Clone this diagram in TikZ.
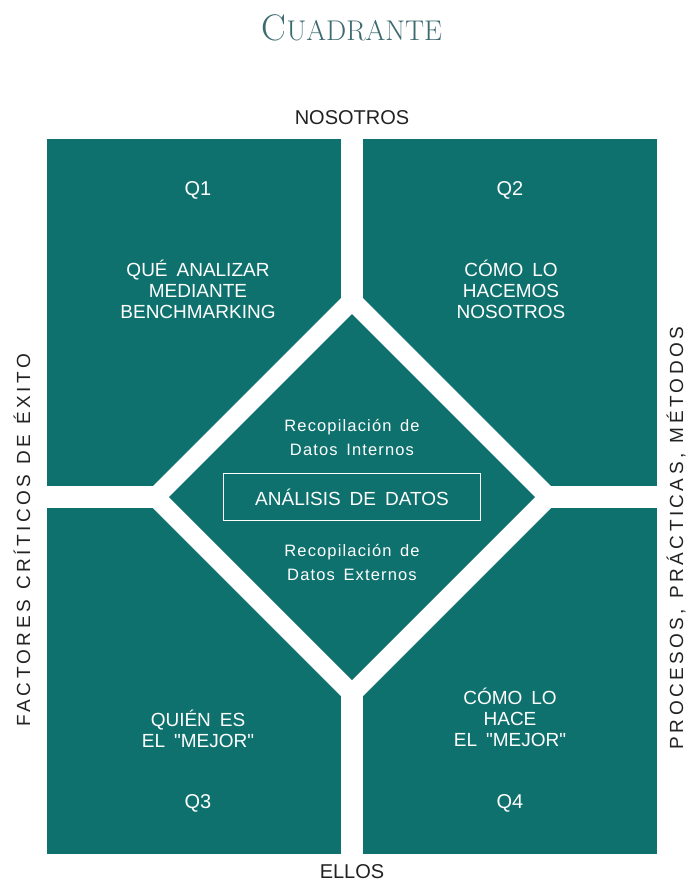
\documentclass[tikz,border=0pt]{standalone}
\usepackage{fontspec}
\newfontfamily\sansf{Liberation Sans}
\newfontfamily\sansq{Liberation Sans}[WordSpace=1.7]
\newfontfamily\sansc{Liberation Sans}[LetterSpace=7,WordSpace=1.5]
\newfontfamily\sansw{Liberation Sans}[LetterSpace=18,WordSpace=1.2]
\definecolor{teal1}{HTML}{0F716E}
\definecolor{titlec}{HTML}{3C6A70}
\definecolor{ink}{HTML}{222222}
\tikzset{
  quad/.style={fill=teal1},
  qtxt/.style={text=white,align=center,font=\sansq\fontsize{19}{21}\selectfont,inner sep=0pt},
  qnum/.style={text=white,font=\sansf\fontsize{20}{20}\selectfont,inner sep=0pt},
  ctxt/.style={text=white,align=center,font=\sansc\fontsize{16.5}{24}\selectfont,inner sep=0pt},
  otxt/.style={text=ink,font=\sansf\fontsize{20}{20}\selectfont,inner sep=0pt},
  sidetxt/.style={text=ink,font=\sansw\fontsize{19}{20}\selectfont,inner sep=0pt,rotate=90},
}
\begin{document}
\begin{tikzpicture}[x=1pt,y=-1pt]
\useasboundingbox (0,0) rectangle (688,884);
% quadrants
\fill[quad] (47,139) rectangle (341,486);
\fill[quad] (363,139) rectangle (657,486);
\fill[quad] (47,508) rectangle (341,854);
\fill[quad] (363,508) rectangle (657,854);
% diamond band and centre
\fill[white] (352,287) -- (562,497) -- (352,707) -- (142,497) -- cycle;
\fill[quad] (352,314) -- (535,497) -- (352,680) -- (169,497) -- cycle;
% title
\node[text=titlec,inner sep=0pt] (title) at (352,28) {\fontsize{37}{37}\selectfont C\fontsize{28.5}{28.5}\selectfont UADRANTE};
% outside labels
\node[otxt] (nos) at (352,118) {NOSOTROS};
\node[otxt] (ellos) at (352,872) {ELLOS};
\node[sidetxt] (fce) at (22,540) {FACTORES CRÍTICOS DE ÉXITO};
\node[sidetxt] (ppm) at (676,538) {PROCESOS, PRÁCTICAS, MÉTODOS};
% Q numbers
\node[qnum] (q1) at (198,190) {Q1};
\node[qnum] (q2) at (510,190) {Q2};
\node[qnum] (q3) at (198,803) {Q3};
\node[qnum] (q4) at (510,803) {Q4};
% quadrant texts
\node[qtxt] (t1) at (198,289) {QUÉ ANALIZAR\\MEDIANTE\\BENCHMARKING};
\node[qtxt] (t2) at (511,289) {CÓMO LO\\HACEMOS\\NOSOTROS};
\node[qtxt] (t3) at (198,729) {QUIÉN ES\\EL "MEJOR"};
\node[qtxt] (t4) at (510,717) {CÓMO LO\\HACE\\EL "MEJOR"};
% centre texts
\node[ctxt] (ri) at (352,437) {Recopilación de\\Datos Internos};
\node[draw=white,line width=1.2pt,minimum width=257pt,minimum height=47pt,text=white,font=\sansq\fontsize{19}{20}\selectfont] (ad) at (352,497) {ANÁLISIS DE DATOS};
\node[ctxt] (re) at (352,562) {Recopilación de\\Datos Externos};
\end{tikzpicture}
\end{document}
